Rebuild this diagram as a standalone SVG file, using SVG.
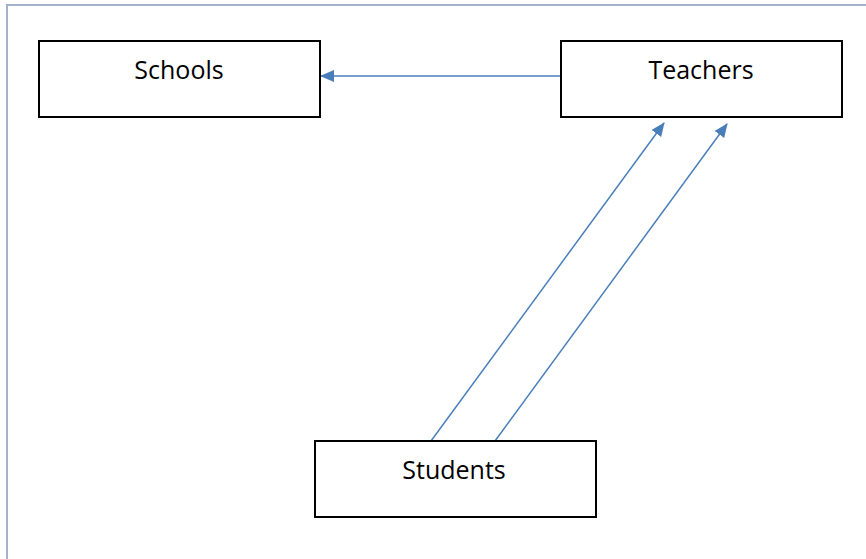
<svg xmlns="http://www.w3.org/2000/svg" width="866" height="559" viewBox="0 0 866 559">
<defs>
<style>
.box{fill:#fff;stroke:#000;stroke-width:2}
.lbl{font-family:"Open Sans","Noto Sans",sans-serif;font-size:25px;fill:#000;text-anchor:middle}
.con{stroke:#4a7ebb;stroke-width:1.5;fill:none}
</style>
<marker id="ah" markerWidth="14" markerHeight="12" refX="13" refY="6" orient="auto" markerUnits="userSpaceOnUse" viewBox="0 0 14 12">
<path d="M0,0 L14,6 L0,12 z" fill="#4a7ebb"/>
</marker>
</defs>
<rect width="866" height="559" fill="#fff"/>
<path d="M7,559 V5 H866" fill="none" stroke="#a3b3cc" stroke-width="2"/>
<g id="connectors">
<line class="con" x1="561" y1="76" x2="321" y2="76" marker-end="url(#ah)"/>
<line class="con" x1="431" y1="441" x2="664" y2="123" marker-end="url(#ah)"/>
<line class="con" x1="495" y1="441" x2="727" y2="124" marker-end="url(#ah)"/>
</g>
<g id="schools">
<rect class="box" x="39" y="41" width="281" height="76"/>
<text class="lbl" x="179" y="79">Schools</text>
</g>
<g id="teachers">
<rect class="box" x="561" y="41" width="281" height="76"/>
<text class="lbl" x="701" y="79">Teachers</text>
</g>
<g id="students">
<rect class="box" x="315" y="441" width="281" height="76"/>
<text class="lbl" x="454" y="479">Students</text>
</g>
</svg>
